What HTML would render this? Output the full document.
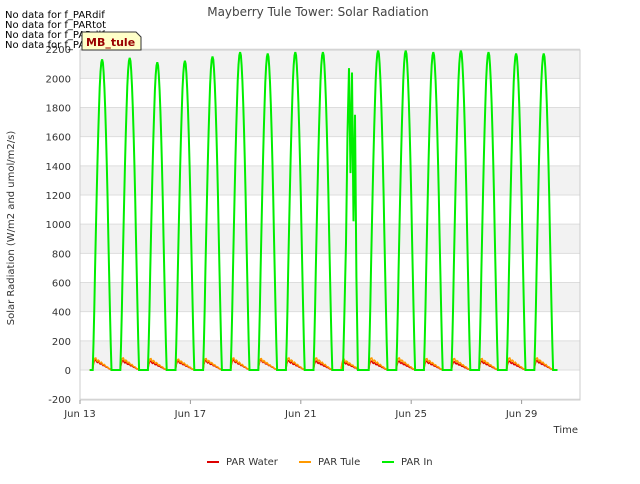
<!DOCTYPE html>
<html><head><meta charset="utf-8">
<style>
body{margin:0;background:#fff;font-family:"DejaVu Sans",sans-serif;}
svg text{font-family:"DejaVu Sans",sans-serif;}
</style></head><body>
<svg id="chart" width="640" height="480">
<text x="318" y="16" text-anchor="middle" font-size="12" fill="#444">Mayberry Tule Tower: Solar Radiation</text>
<g id="bands"></g>
<g id="grid"></g>
<rect x="80" y="50" width="500" height="350" fill="none" stroke="#ccc"/>
<g id="yticks" font-size="10" fill="#333"></g>
<g id="xticks" font-size="10" fill="#333"></g>
<g id="series"></g>
<text x="14" y="228" font-size="10" fill="#333" text-anchor="middle" transform="rotate(-90 14 228)">Solar Radiation (W/m2 and umol/m2/s)</text>
<text x="578" y="433" font-size="10" fill="#333" text-anchor="end">Time</text>
<g font-size="10" fill="#333">
<g><line x1="207" y1="462" x2="219" y2="462" stroke="#d00" stroke-width="2"/><text x="226" y="465">PAR Water</text></g>
<g><line x1="299" y1="462" x2="311" y2="462" stroke="#f90" stroke-width="2"/><text x="318" y="465">PAR Tule</text></g>
<g><line x1="382" y1="462" x2="394" y2="462" stroke="#0e0" stroke-width="2"/><text x="401" y="465">PAR In</text></g>
</g>
<g font-size="10" fill="#000">
<text x="5" y="18">No data for f_PARdif</text>
<text x="5" y="28">No data for f_PARtot</text>
<text x="5" y="38">No data for f_PARdif</text>
<text x="5" y="48">No data for f_PARtot</text>
</g>
<g>
<path d="M82,32 H136 L141,37 V50 H82 Z" fill="#ffffc8" stroke="#333"/>
<text x="86" y="46" font-size="11" font-weight="bold" fill="#900">MB_tule</text>
</g>
</svg>
<script>
const yTicks=[-200,0,200,400,600,800,1000,1200,1400,1600,1800,2000,2200];
const xTickLabels=["Jun 13","Jun 17","Jun 21","Jun 25","Jun 29"];
const xTickDays=[13,17,21,25,29];
const dayNoon=[13.8,14.8,15.8,16.8,17.8,18.8,19.8,20.8,21.8,22.8,23.8,24.8,25.8,26.8,27.8,28.8,29.8];
const parInPeak=[2130,2140,2110,2120,2150,2180,2170,2180,2180,2070,2190,2190,2180,2190,2180,2170,2170];
const parTulePeak=[95,95,90,85,90,95,90,95,95,85,95,95,90,90,90,95,95];
const parWaterPeak=[80,75,70,70,75,80,80,75,70,65,70,70,70,65,70,70,75];
const spikeDayIndex=9;
const spikeValues=[0,420,870,1620,2070,1350,2040,1020,1750,640,0];
const NS="http://www.w3.org/2000/svg";
const X=d=>80+(d-13)*27.6, Y=v=>370-v*0.14583;
const bands=document.getElementById('bands'),grid=document.getElementById('grid'),yt=document.getElementById('yticks'),xt=document.getElementById('xticks'),ser=document.getElementById('series');
function mk(tag,attrs,parent){const e=document.createElementNS(NS,tag);for(const k in attrs)e.setAttribute(k,attrs[k]);parent.appendChild(e);return e;}
for(let i=0;i<yTicks.length-1;i++){if(yTicks[i]>=0&&(yTicks[i]/200)%2===0){
 const r=mk('rect',{x:80,y:Y(yTicks[i+1]),width:500,height:Y(yTicks[i])-Y(yTicks[i+1]),fill:'#f2f2f2'},bands);
 
 }}
yTicks.forEach(v=>{const l=mk('line',{x1:80,x2:580,y1:Y(v),y2:Y(v),stroke:'#ddd'},grid);
 
 
 const t=mk('text',{x:71,y:Y(v)+4,'text-anchor':'end'},yt);t.textContent=v;
 
 });
xTickDays.forEach((d,i)=>{mk('line',{x1:X(d),x2:X(d),y1:400,y2:404,stroke:'#999'},xt);
 const t=mk('text',{x:X(d),y:417,'text-anchor':'middle'},xt);t.textContent=xTickLabels[i];
 
 });
function buildPath(peaks,shape,spike){
 let pts=[[X(dayNoon[0]-0.45),Y(0)]];
 dayNoon.forEach((n,i)=>{const s=n-0.34,e=n+0.34;pts.push([X(s),Y(0)]);
  if(spike&&i===spikeDayIndex){spikeValues.forEach((v,k)=>{pts.push([X(n-0.27+k*0.054),Y(v)]);});}
  else{for(let k=0;k<=24;k++){const t=k/24;pts.push([X(s+t*(e-s)),Y(peaks[i]*shape(t))]);}}
  pts.push([X(e),Y(0)]);});
 pts.push([X(dayNoon[dayNoon.length-1]+0.5),Y(0)]);
 return 'M'+pts.map(p=>p[0].toFixed(1)+','+p[1].toFixed(1)).join('L');}
const bell=t=>Math.pow(Math.sin(Math.PI*t),1.2);
const decay=t=>t<0.08?t/0.08:(1-t)*(1.05)*(0.9+0.1*Math.cos(t*40));
const w=mk('path',{d:buildPath(parWaterPeak,decay,false),fill:'none',stroke:'#d00','stroke-width':1.5},ser);


const tl=mk('path',{d:buildPath(parTulePeak,decay,false),fill:'none',stroke:'#f90','stroke-width':1.5},ser);


const g=mk('path',{d:buildPath(parInPeak,bell,true),fill:'none',stroke:'#0e0','stroke-width':2},ser);


</script>
</body></html>
